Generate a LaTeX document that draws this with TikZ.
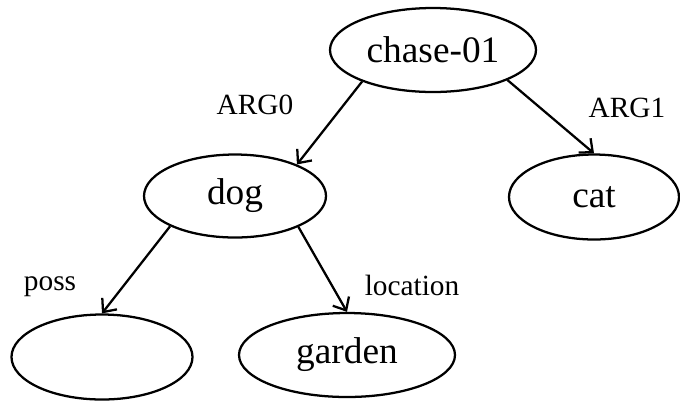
\documentclass[tikz,border=0pt]{standalone}
\usepackage{fontspec}
\setmainfont{Liberation Serif}
\usetikzlibrary{shapes.geometric,arrows.meta}
\begin{document}
\begin{tikzpicture}[x=0.75pt,y=-0.75pt,
  concept/.style={draw,ellipse,line width=1.7pt,inner sep=0pt,
    font=\fontsize{28}{32}\selectfont},
  rel/.style={-{Straight Barb[length=8pt,width=14pt,line width=1.7pt]},line width=1.7pt},
  rellabel/.style={font=\fontsize{22}{26}\selectfont,inner sep=0pt}]
  \useasboundingbox (0,0) rectangle (680,401);

  % concept nodes
  \node[concept,minimum width=206*0.75pt,minimum height=84*0.75pt] (chase) at (433,50) {chase-01};
  \node[concept,minimum width=182*0.75pt,minimum height=83*0.75pt] (dog) at (235,196) {dog};
  \node[concept,minimum width=170*0.75pt,minimum height=85*0.75pt] (cat) at (594,197) {cat};
  \node[concept,minimum width=181*0.75pt,minimum height=85*0.75pt] (owner) at (102,357) {};
  \node[concept,minimum width=216*0.75pt,minimum height=84*0.75pt] (garden) at (347,355) {garden};

  % relations
  \draw[rel] (chase.204) -- (dog.27);
  \draw[rel] (chase.338) -- (cat.north);
  \draw[rel] (dog.205) -- (owner.north);
  \draw[rel] (dog.334) -- (garden.north);

  % relation labels
  \node[rellabel] (l0) at (255,105) {ARG0};
  \node[rellabel] (l1) at (627,108) {ARG1};
  \node[rellabel] (l2) at (50,287) {poss};
  \node[rellabel] (l3) at (412,285) {location};
\end{tikzpicture}
\end{document}
